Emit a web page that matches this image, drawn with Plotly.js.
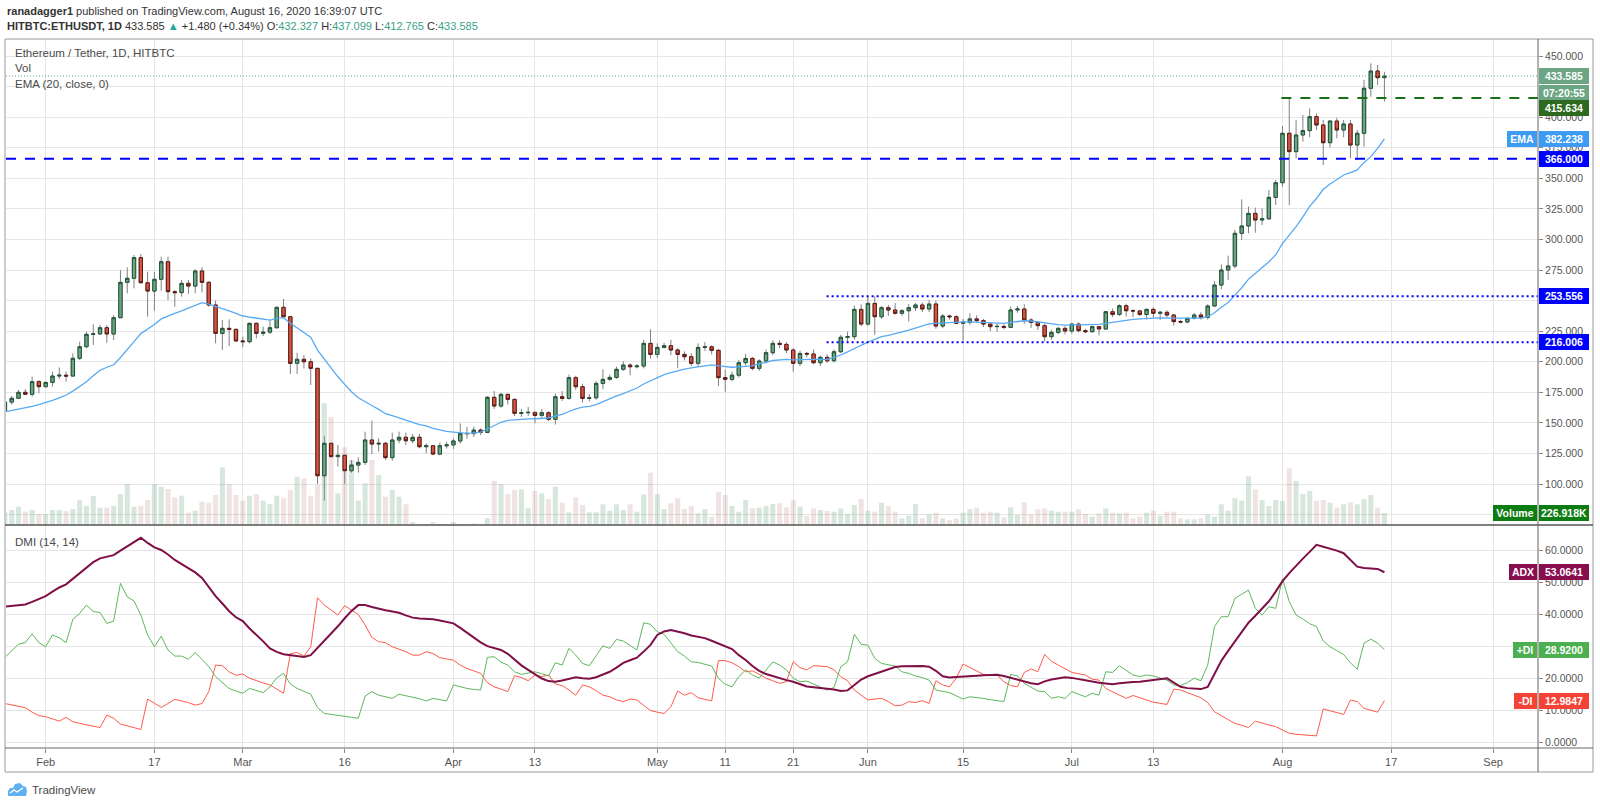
<!DOCTYPE html>
<html><head><meta charset="utf-8">
<script src="https://cdn.plot.ly/plotly-3.0.1.min.js"></script>
<style>html,body{margin:0;padding:0;background:#fff;}#chart{width:1600px;height:805px;}</style>
</head><body><div id="chart"></div>
<script>
// ---------------- DATA (HITBTC:ETHUSDT, 1D) ----------------
const firstDate = '2020-01-26';
const openP = [160.0,167.0,170.1,175.0,173.4,183.7,
179.6,183.1,188.3,189.0,188.3,202.8,212.3,222.4,222.8,227.8,
222.7,236.0,264.9,268.2,285.1,264.6,257.8,267.4,281.8,257.3,
256.5,264.1,261.9,274.2,264.9,246.4,223.2,227.3,226.5,217.0,
216.4,231.4,223.2,224.2,227.8,244.5,236.8,198.7,202.0,200.0,
194.6,106.8,133.3,122.4,123.5,110.9,115.5,117.7,136.0,132.7,
133.3,121.6,136.0,138.2,135.4,138.2,130.5,131.3,124.5,131.3,
132.0,135.2,141.4,141.2,144.1,142.2,170.9,163.8,173.3,169.2,
157.8,158.3,158.6,156.1,158.3,152.9,171.4,170.0,187.0,179.6,
170.0,170.5,182.3,185.6,187.2,193.8,197.3,195.9,196.5,215.0,
206.0,211.7,213.1,209.6,206.0,204.1,198.7,211.7,212.2,209.3,
187.0,185.6,189.0,199.2,202.7,194.6,200.6,207.4,215.0,214.2,
209.6,198.7,206.8,206.3,199.2,203.6,200.8,208.2,220.0,220.5,
242.8,230.8,247.7,236.8,244.2,242.3,239.6,241.7,244.2,246.4,
243.1,247.2,229.2,237.4,236.8,231.4,232.2,235.0,233.6,230.8,
228.7,228.9,228.1,242.3,243.1,234.1,232.2,229.5,220.5,224.0,
227.3,225.1,230.8,225.4,224.6,228.7,226.8,240.9,238.7,245.8,
241.7,241.5,238.7,242.8,239.6,240.4,238.2,232.8,232.5,235.5,
238.2,236.3,245.6,262.7,275.0,278.3,305.0,311.0,321.3,315.9,
316.9,334.4,346.4,386.8,371.8,385.4,389.0,400.4,393.6,379.1,
396.8,389.5,394.4,377.2,386.8,423.6,437.7,432.327];
const highP = [168.0,172.0,176.9,177.7,187.8,185.0,
183.7,191.9,195.4,191.9,206.9,216.4,224.6,230.6,230.0,230.0,
238.2,275.0,277.2,287.3,288.1,273.6,273.6,285.9,285.9,258.6,
266.8,266.8,275.5,277.2,266.0,250.0,234.1,234.7,227.0,220.5,
232.0,232.0,228.7,234.1,245.0,251.3,237.0,207.4,205.5,202.8,
195.0,139.3,133.8,131.9,124.0,119.6,121.8,142.8,151.8,137.4,
134.6,142.0,142.8,142.0,140.9,140.9,133.3,131.6,134.0,134.4,
137.4,149.6,146.6,147.0,145.5,172.0,176.0,174.5,174.0,170.0,
161.5,163.0,159.0,161.5,159.5,174.0,176.0,189.5,188.5,182.0,
173.5,184.0,193.8,189.5,196.0,200.5,198.5,198.0,218.0,226.5,
215.0,215.5,218.0,211.0,208.5,207.0,215.0,216.0,213.5,210.5,
193.5,192.0,201.5,206.5,204.0,202.0,210.0,217.5,217.5,216.0,
211.0,209.0,208.0,210.0,205.0,206.0,210.0,222.0,224.6,246.0,
247.0,253.0,253.5,245.5,246.5,248.0,243.0,247.0,248.0,248.5,
250.5,250.0,239.0,238.5,238.0,235.0,239.5,238.0,235.0,232.5,
231.0,230.5,245.0,245.5,247.0,235.5,233.0,231.0,226.0,228.5,
229.0,231.5,232.0,227.0,229.5,229.0,241.5,243.5,247.0,247.5,
243.0,242.5,243.5,244.5,241.5,242.0,239.0,234.5,236.0,240.0,
240.5,247.0,266.0,279.6,286.7,307.7,332.8,326.8,326.0,325.4,
340.4,348.6,392.8,415.6,397.7,401.8,407.2,403.0,397.7,397.7,
399.6,397.7,397.7,389.5,430.4,444.0,442.6,437.099];
const lowP = [158.5,165.0,169.5,172.8,171.4,174.2,
179.0,179.6,185.9,183.7,187.8,201.4,211.0,213.7,221.8,215.6,
217.8,236.0,255.9,260.0,264.0,236.8,241.7,258.1,250.5,245.0,
253.2,255.4,255.9,256.7,245.0,215.0,209.6,212.8,216.4,211.8,
215.0,219.1,221.0,222.7,227.3,236.0,190.0,190.0,194.6,181.0,
100.0,86.4,121.8,114.2,100.0,109.3,109.3,115.5,124.6,126.5,
119.6,119.1,133.3,131.9,133.3,129.2,125.1,123.5,123.5,129.0,
128.7,133.0,137.0,138.5,140.0,141.6,161.5,162.5,165.0,155.6,
155.0,155.8,149.6,154.5,151.5,148.6,168.0,169.0,177.0,166.5,
167.5,169.0,177.5,184.5,186.0,192.5,189.0,194.5,194.5,202.5,
203.0,211.0,205.5,194.6,201.0,196.5,196.0,209.0,206.0,180.0,
175.5,184.0,187.0,197.0,193.0,192.5,198.5,205.5,211.0,207.0,
191.8,196.5,203.5,198.0,196.5,199.0,199.5,207.0,216.4,218.0,
229.0,229.5,222.0,235.0,237.5,238.5,237.5,233.0,241.5,240.5,
240.5,227.0,227.5,234.5,231.0,217.2,230.0,231.5,228.5,225.0,
224.5,226.5,227.5,240.0,231.0,227.5,226.0,216.5,218.0,222.5,
222.5,223.0,224.0,223.5,223.5,221.5,226.0,236.5,237.5,237.0,
236.5,237.5,234.5,236.0,234.0,236.5,229.5,231.5,231.5,234.5,
234.5,234.5,245.0,259.2,266.8,276.4,299.6,305.0,305.5,311.8,
315.9,328.2,343.0,328.0,366.3,380.0,383.5,389.5,360.9,375.3,
382.7,383.5,366.3,365.0,375.9,416.7,426.3,412.765];
const closeP = [167.0,170.1,175.0,173.4,183.7,179.6,
183.1,188.3,189.0,188.3,202.8,212.3,222.4,222.8,227.8,222.7,
236.0,264.9,268.2,285.1,264.6,257.8,267.4,281.8,257.3,256.5,
264.1,261.9,274.2,264.9,246.4,223.2,227.3,226.5,217.0,216.4,
231.4,223.2,224.2,227.8,244.5,236.8,198.7,202.0,200.0,194.6,
106.8,133.3,122.4,123.5,110.9,115.5,117.7,136.0,132.7,133.3,
121.6,136.0,138.2,135.4,138.2,130.5,131.3,124.5,131.3,132.0,
135.2,141.4,141.2,144.1,142.2,170.9,163.8,173.3,169.2,157.8,
158.3,158.6,156.1,158.3,152.9,171.4,170.0,187.0,179.6,170.0,
170.5,182.3,185.6,187.2,193.8,197.3,195.9,196.5,215.0,206.0,
211.7,213.1,209.6,206.0,204.1,198.7,211.7,212.2,209.3,187.0,
185.6,189.0,199.2,202.7,194.6,200.6,207.4,215.0,214.2,209.6,
198.7,206.8,206.3,199.2,203.6,200.8,208.2,220.0,220.5,242.8,
230.8,247.7,236.8,244.2,242.3,239.6,241.7,244.2,246.4,243.1,
247.2,229.2,237.4,236.8,231.4,232.2,235.0,233.6,230.8,228.7,
228.9,228.1,242.3,243.1,234.1,232.2,229.5,220.5,224.0,227.3,
225.1,230.8,225.4,224.6,228.7,226.8,240.9,238.7,245.8,241.7,
241.5,238.7,242.8,239.6,240.4,238.2,232.8,232.5,235.5,238.2,
236.3,245.6,262.7,275.0,278.3,305.0,311.0,321.3,315.9,316.9,
334.4,346.4,386.8,371.8,385.4,389.0,400.4,393.6,379.1,396.8,
389.5,394.4,377.2,386.8,423.6,437.7,432.3,433.585];
const volumeK = [240,283,346,252,283,208,
208,283,283,265,302,472,359,548,328,328,
359,586,775,346,365,472,775,724,680,523,
554,233,271,441,422,567,1090,775,567,460,
554,586,460,397,554,504,662,914,882,554,
756,2300,2035,598,1468,1229,460,788,1229,945,
535,662,535,391,55,20,15,55,18,15,
55,20,15,25,20,130,832,775,586,662,
674,315,643,598,491,724,422,239,523,378,
239,239,391,271,391,283,391,252,580,989,
580,302,410,504,302,359,221,302,158,630,
567,359,252,472,315,328,359,397,410,334,
472,346,176,315,283,265,252,315,210,378,
491,271,252,422,359,252,126,176,397,126,
202,233,126,95,126,233,296,328,233,252,
233,145,334,189,428,202,296,315,271,252,
252,252,296,208,158,221,315,233,221,233,
126,158,233,271,176,252,252,126,107,107,
126,200,158,390,270,504,460,920,674,472,
359,472,454,1071,832,586,643,460,472,422,
328,391,428,391,491,567,328,226.918];
const ema20 = [159.0,160.0,161.2,162.0,163.5,165.0,
166.5,168.5,170.5,172.8,176.0,179.8,183.7,188.5,193.0,195.5,
197.5,203.5,209.6,216.5,223.0,226.5,230.5,235.0,237.5,239.6,
241.6,243.7,246.3,248.3,247.2,245.5,243.5,241.5,239.5,237.4,
236.5,235.5,234.8,234.1,235.5,236.0,231.4,227.5,224.2,220.0,
209.5,202.0,194.5,187.7,181.5,175.5,170.5,167.0,164.2,161.0,
157.5,156.0,154.2,152.5,150.5,148.5,147.5,145.5,144.2,143.0,
142.5,142.0,141.4,141.6,142.4,145.0,147.5,150.5,152.0,152.6,
153.0,153.2,153.4,153.6,154.0,155.7,157.0,159.3,161.5,162.8,
163.5,165.0,167.5,169.8,172.0,174.0,176.0,178.5,181.8,184.5,
187.0,189.5,191.0,192.8,194.0,195.0,195.8,197.0,197.5,196.6,
196.0,195.5,195.8,196.4,196.6,198.6,199.4,201.0,201.7,201.9,
201.5,201.8,202.0,201.9,202.1,201.8,203.5,205.5,208.0,211.0,
213.5,216.0,218.5,220.5,221.5,223.2,224.5,225.9,227.6,229.3,
231.0,231.4,231.8,232.2,232.4,232.6,232.6,232.4,232.1,231.8,
231.5,231.3,232.2,233.0,233.5,233.3,232.6,231.4,230.7,230.3,
230.0,230.0,230.0,229.9,230.2,230.5,231.4,232.3,233.3,234.1,
234.6,235.0,235.5,235.7,235.8,236.0,235.7,235.6,235.5,235.6,
235.6,236.8,240.0,244.5,248.5,254.5,260.5,267.5,272.0,276.5,
281.7,287.3,296.8,303.5,310.4,318.5,327.0,333.5,341.0,345.3,
349.0,352.7,354.7,356.8,363.0,367.7,374.5,382.238];
const adx = [42.3,42.5,42.8,43.0,43.8,44.6,
45.6,47.0,48.3,49.3,51.0,52.6,54.5,56.2,57.4,57.9,
58.4,59.8,61.2,62.6,63.8,62.2,60.8,60.0,58.6,56.9,
55.6,54.2,53.0,51.3,48.5,45.6,43.3,40.9,39.0,37.8,
35.5,33.6,31.5,29.3,28.2,27.5,27.2,26.8,26.6,27.2,
29.4,31.8,34.0,36.2,38.7,41.0,42.8,42.8,42.2,41.6,
41.2,40.8,40.4,39.6,38.9,38.6,38.5,38.4,38.0,37.5,
37.1,35.7,34.2,32.6,31.2,30.0,29.4,28.8,27.6,25.7,
24.0,22.6,21.2,19.9,19.1,18.9,19.3,19.9,20.3,20.0,
19.8,20.3,21.1,22.0,23.3,24.8,25.6,26.4,28.3,30.4,
33.5,34.6,35.0,34.6,34.0,33.3,32.8,32.5,31.7,30.9,
30.0,29.1,27.2,25.7,23.8,22.3,21.3,20.6,20.0,19.4,
18.9,18.2,17.4,17.2,17.0,16.9,16.5,16.0,16.2,17.9,
19.6,20.6,21.3,22.0,22.8,23.5,23.7,23.8,23.9,23.8,
23.6,22.3,20.6,20.2,20.4,20.6,20.7,20.8,20.9,21.0,
21.1,20.7,20.1,19.4,18.9,18.4,18.1,19.0,19.6,20.0,
20.3,20.1,19.8,19.4,19.0,18.6,18.3,18.1,18.4,18.7,
18.8,18.9,19.2,19.4,19.7,20.0,18.6,17.3,16.9,16.7,
16.6,17.3,21.5,25.4,28.5,31.5,34.5,37.3,39.5,41.6,
44.0,47.0,50.3,52.8,55.2,57.3,59.4,61.6,61.0,60.5,
59.8,59.0,56.9,54.8,54.4,54.3,54.1,53.0641];
const plusDI = [26.5,28.5,30.6,31.1,33.8,31.1,
29.8,33.5,32.6,31.1,38.4,40.2,42.8,40.8,40.5,37.1,
37.8,49.6,45.4,44.1,39.7,33.5,29.8,33.1,28.8,26.9,
26.9,25.9,28.0,25.9,23.6,20.5,18.6,16.8,16.0,15.3,
16.8,16.2,15.5,17.3,20.1,21.5,18.2,16.8,15.9,15.0,
10.8,9.0,8.7,8.5,8.1,7.8,7.5,14.4,15.8,14.7,
14.2,13.7,15.0,14.6,14.2,13.6,12.9,13.7,13.3,12.9,
17.9,17.3,16.8,16.5,16.3,26.5,26.7,25.0,24.1,22.0,
21.2,21.6,22.0,21.4,20.7,24.8,24.1,29.3,27.2,24.6,
23.9,27.0,30.1,29.3,32.1,31.6,30.2,28.8,37.3,36.8,
34.5,33.7,31.0,28.3,26.9,25.1,24.9,24.3,23.8,20.0,
18.1,17.3,20.5,22.6,21.0,20.0,22.6,25.1,24.1,22.6,
20.0,18.9,19.1,18.2,17.3,16.3,17.1,23.6,25.1,33.7,
30.6,30.3,26.2,24.6,24.2,23.8,22.0,21.5,20.7,20.2,
19.4,16.3,15.9,15.5,14.5,13.5,14.2,14.0,13.7,13.3,
13.0,12.7,21.2,20.7,18.4,17.1,16.0,15.8,13.7,14.2,
13.7,15.8,15.0,14.2,15.3,14.7,22.0,21.8,23.9,22.5,
21.0,20.5,21.0,20.7,20.0,19.4,17.9,17.7,18.6,20.0,
19.2,24.1,36.1,39.2,39.2,44.9,46.2,47.5,41.8,39.7,
42.3,41.8,51.0,43.9,39.7,38.5,37.0,36.1,31.6,29.8,
28.6,27.4,24.8,22.8,30.9,32.2,30.9,28.92];
const minusDI = [12.1,11.6,11.2,10.8,9.4,8.3,
8.0,7.3,6.6,7.8,6.4,5.9,5.4,5.0,4.6,8.5,
7.5,5.7,5.2,4.6,4.0,13.5,12.2,10.9,12.1,13.4,
12.9,12.4,11.6,12.1,15.8,24.1,23.9,22.0,20.9,21.3,
20.0,19.2,18.5,17.9,16.6,15.3,27.7,28.0,26.9,29.8,
45.1,42.8,41.3,39.7,42.6,41.3,39.9,36.6,32.7,31.4,
31.1,29.8,29.0,28.3,27.2,27.2,28.3,27.7,26.4,26.0,
25.6,24.1,23.0,22.3,21.5,18.6,17.3,16.6,15.8,20.8,
20.2,19.2,21.0,20.5,21.0,18.2,17.7,16.3,14.7,17.9,
17.3,16.1,14.7,14.2,13.2,12.7,13.5,13.2,11.6,9.9,
9.4,9.0,11.1,16.0,14.7,15.5,13.9,13.4,12.9,25.5,
25.5,24.8,23.6,22.0,22.3,21.2,20.0,19.2,18.4,18.9,
25.1,23.3,22.6,23.9,23.8,23.6,22.6,20.5,19.2,16.3,
14.7,13.2,13.5,13.7,12.7,11.4,11.6,12.7,12.4,13.0,
12.1,19.2,17.9,17.3,20.0,24.4,23.3,22.3,21.2,20.8,
21.0,18.9,17.7,17.3,21.8,22.9,22.0,27.4,25.3,24.1,
23.0,21.8,21.4,21.0,19.7,19.4,16.8,15.8,14.8,13.7,
14.6,14.0,13.2,12.5,12.2,11.8,16.6,16.3,15.5,14.7,
13.9,12.4,9.5,8.3,7.1,5.9,5.3,4.6,6.6,5.9,
5.4,4.9,3.8,2.8,2.5,2.3,2.1,2.0,10.4,9.8,
9.2,8.7,13.2,12.7,10.6,10.0,9.4,12.9847];
const tickDates = ['2020-02-01','2020-02-17','2020-03-01','2020-03-16','2020-04-01','2020-04-13','2020-05-01','2020-05-11','2020-05-21','2020-06-01','2020-06-15','2020-07-01','2020-07-13','2020-08-01','2020-08-17','2020-09-01'];
const tickText = ['Feb','17','Mar','16','Apr','13','May','11','21','Jun','15','Jul','13','Aug','17','Sep'];
const priceTicks = [75,100,125,150,175,200,225,250,275,300,325,350,375,400,425,450];
const priceTicksHidden = [75,250,425];   // covered by value boxes in the reference
const dmiTicks = [0,10,20,30,40,50,60];
const dmiTicksHidden = [30];
const levelPrices = [366.000, 415.634, 253.556, 216.006];
const levelStart = [null, '2020-07-31 20:00', '2020-05-25 22:00', '2020-05-25 22:00'];
const prevChange = 1.480, prevChangePct = 0.34, countdown = '07:20:55';

// ---------------- BUILD ----------------
const n = closeP.length;
const t0 = Date.parse(firstDate + 'T00:00:00Z');
const dates = [];
for (let i = 0; i < n; i++) dates.push(new Date(t0 + i * 86400000).toISOString().slice(0, 10));

const xRange = ['2020-01-26 03:50', '2020-09-07 14:24'];
const L = 6, R = 1538, T = 39, B = 748;
const px = v => (v - L) / (R - L);
const py = v => (B - v) / (B - T);
const split = py(525);

const FONT = 'Liberation Sans, Arial, sans-serif';
const upFill = '#6ba583', upLine = '#225437', dnFill = '#d75442', dnLine = '#5b1a13', wickCol = '#808080';
const isUp = closeP.map((c, i) => c >= openP[i]);
const volColors = isUp.map(u => u ? 'rgba(107,165,131,0.27)' : 'rgba(150,70,70,0.15)');
const bodyTop = openP.map((o, i) => Math.max(o, closeP[i]));
const bodyBot = openP.map((o, i) => Math.min(o, closeP[i]));

const traces = [
  {type:'bar', x:dates, y:volumeK, xaxis:'x', yaxis:'y', marker:{color:volColors, line:{width:0}}, hoverinfo:'skip', showlegend:false},
  {type:'candlestick', x:dates, open:openP, high:highP, low:lowP, close:closeP, xaxis:'x', yaxis:'y3',
   increasing:{line:{color:wickCol, width:1}, fillcolor:upFill}, decreasing:{line:{color:wickCol, width:1}, fillcolor:dnFill},
   whiskerwidth:0, hoverinfo:'skip', showlegend:false},
  {type:'candlestick', x:dates, open:openP, high:bodyTop, low:bodyBot, close:closeP, xaxis:'x', yaxis:'y3',
   increasing:{line:{color:upLine, width:1}, fillcolor:upFill}, decreasing:{line:{color:dnLine, width:1}, fillcolor:dnFill},
   whiskerwidth:0, hoverinfo:'skip', showlegend:false},
  {type:'scatter', mode:'lines', x:dates, y:ema20, xaxis:'x', yaxis:'y3', line:{color:'#58aaf3', width:1.3}, hoverinfo:'skip', showlegend:false},
  {type:'scatter', mode:'lines', x:dates, y:minusDI, xaxis:'x', yaxis:'y2', line:{color:'#ff5a4a', width:1}, hoverinfo:'skip', showlegend:false},
  {type:'scatter', mode:'lines', x:dates, y:plusDI, xaxis:'x', yaxis:'y2', line:{color:'#5cb85c', width:1}, hoverinfo:'skip', showlegend:false},
  {type:'scatter', mode:'lines', x:dates, y:adx, xaxis:'x', yaxis:'y2', line:{color:'#7f0f47', width:2}, hoverinfo:'skip', showlegend:false}
];

const grid = '#e6e6e6';
const shapes = [];
shapes.push({type:'line', xref:'paper', x0:0, x1:1, yref:'y3', y0:levelPrices[0], y1:levelPrices[0], line:{color:'#0000ff', width:2, dash:'10px,9px'}});
shapes.push({type:'line', xref:'x', x0:levelStart[1], x1:xRange[1], yref:'y3', y0:levelPrices[1], y1:levelPrices[1], line:{color:'#167016', width:2, dash:'10px,9px'}});
shapes.push({type:'line', xref:'x', x0:levelStart[2], x1:xRange[1], yref:'y3', y0:levelPrices[2], y1:levelPrices[2], line:{color:'#0000ff', width:2, dash:'2px,3px'}});
shapes.push({type:'line', xref:'x', x0:levelStart[3], x1:xRange[1], yref:'y3', y0:levelPrices[3], y1:levelPrices[3], line:{color:'#0000ff', width:2, dash:'2px,3px'}});
shapes.push({type:'line', xref:'paper', x0:0, x1:1, yref:'y3', y0:closeP[n-1], y1:closeP[n-1], line:{color:'#6ba583', width:1, dash:'1px,2px'}});
const frameR = (1593 - L) / (R - L), frameB = py(772);
shapes.push({type:'rect', xref:'paper', yref:'paper', x0:px(5), x1:frameR, y0:frameB, y1:1, line:{color:'#9a9a9a', width:1}, fillcolor:'rgba(0,0,0,0)'});
shapes.push({type:'line', xref:'paper', yref:'paper', x0:1, x1:1, y0:frameB, y1:1, line:{color:'#666', width:1}});
shapes.push({type:'line', xref:'paper', yref:'paper', x0:px(5), x1:frameR, y0:split, y1:split, line:{color:'#555', width:1.5}});
shapes.push({type:'line', xref:'paper', yref:'paper', x0:px(5), x1:frameR, y0:0, y1:0, line:{color:'#666', width:1}});
function pathFrom(pts, close) {
  return pts.map((p, i) => (i ? 'L' : 'M') + px(p[0]).toFixed(5) + ',' + py(p[1]).toFixed(5)).join(' ') + (close ? ' Z' : '');
}
shapes.push({type:'path', xref:'paper', yref:'paper', path:pathFrom([[8,796],[8,791],[10,788],[13,788],[15,784],[20,783],[23,786],[26,787],[27,791],[26,796]], true), fillcolor:'#5fb0ef', line:{width:0}});
shapes.push({type:'path', xref:'paper', yref:'paper', path:pathFrom([[10,793],[14,790],[17,792],[23,788]], false), line:{color:'#fff', width:1.3}});

function box(yref, y, text, bg, opts) {
  opts = opts || {};
  return Object.assign({xref:'paper', x:1, xanchor:'left', xshift:1, yref:yref, y:y, yanchor:'middle', yshift:0,
    text:'<b>' + text + '</b>', font:{family:FONT, size:10.5, color:'#fff'}, bgcolor:bg, bordercolor:bg,
    borderwidth:1, borderpad:1, width:46, height:12, align:'center', showarrow:false}, opts);
}
function tag(yref, y, text, bg, w) {
  return box(yref, y, text, bg, {xanchor:'right', xshift:-1, width:w});
}
const last = n - 1;
const teal = '#3a9f8a';
const annotations = [
  {xref:'paper', yref:'paper', x:px(5), y:py(11), xanchor:'left', yanchor:'middle', showarrow:false,
   text:'<b>ranadagger1</b> published on TradingView.com, August 16, 2020 16:39:07 UTC', font:{family:FONT, size:11, color:'#333'}},
  {xref:'paper', yref:'paper', x:px(5), y:py(26), xanchor:'left', yanchor:'middle', showarrow:false,
   text:'<b>HITBTC:ETHUSDT, 1D</b> ' + closeP[last].toFixed(3) + ' <span style="color:#26a69a">▲</span> +' + prevChange.toFixed(3) + ' (+' + prevChangePct.toFixed(2) + '%) O:<span style="color:' + teal + '">' + openP[last].toFixed(3) +
   '</span> H:<span style="color:' + teal + '">' + highP[last].toFixed(3) + '</span> L:<span style="color:' + teal + '">' + lowP[last].toFixed(3) + '</span> C:<span style="color:' + teal + '">' + closeP[last].toFixed(3) + '</span>',
   font:{family:FONT, size:11, color:'#333'}},
  {xref:'paper', yref:'paper', x:px(13), y:py(53), xanchor:'left', yanchor:'middle', showarrow:false, text:'Ethereum / Tether, 1D, HITBTC', font:{family:FONT, size:11.5, color:'#4a4a4a'}},
  {xref:'paper', yref:'paper', x:px(13), y:py(68), xanchor:'left', yanchor:'middle', showarrow:false, text:'Vol', font:{family:FONT, size:11.5, color:'#4a4a4a'}},
  {xref:'paper', yref:'paper', x:px(13), y:py(84), xanchor:'left', yanchor:'middle', showarrow:false, text:'EMA (20, close, 0)', font:{family:FONT, size:11.5, color:'#4a4a4a'}},
  {xref:'paper', yref:'paper', x:px(13), y:py(542), xanchor:'left', yanchor:'middle', showarrow:false, text:'DMI (14, 14)', font:{family:FONT, size:11.5, color:'#4a4a4a'}},
  {xref:'paper', yref:'paper', x:px(30), y:py(790), xanchor:'left', yanchor:'middle', showarrow:false, text:'TradingView', font:{family:FONT, size:11.5, color:'#4a4a4a'}},
  box('y3', closeP[last], closeP[last].toFixed(3), '#6ba583'),
  box('y3', closeP[last], countdown, '#6ba583', {yshift:-17}),
  box('y3', levelPrices[1], levelPrices[1].toFixed(3), '#2d6a1f', {yshift:-10}),
  box('y3', ema20[last], ema20[last].toFixed(3), '#3d9bf3'),
  tag('y3', ema20[last], 'EMA', '#3d9bf3', 26),
  box('y3', levelPrices[0], levelPrices[0].toFixed(3), '#0000ff'),
  box('y3', levelPrices[2], levelPrices[2].toFixed(3), '#0000ff'),
  box('y3', levelPrices[3], levelPrices[3].toFixed(3), '#0000ff'),
  box('y', volumeK[last], volumeK[last].toFixed(3) + 'K', '#0d7d13'),
  tag('y', volumeK[last], 'Volume', '#0d7d13', 40),
  box('y2', adx[last], adx[last].toFixed(4), '#880e4f'),
  tag('y2', adx[last], 'ADX', '#880e4f', 24),
  box('y2', plusDI[last], plusDI[last].toFixed(4), '#4caf50'),
  tag('y2', plusDI[last], '+DI', '#4caf50', 20),
  box('y2', minusDI[last], minusDI[last].toFixed(4), '#f44336'),
  tag('y2', minusDI[last], '-DI', '#f44336', 19)
];

const priceTickText = priceTicks.map(v => priceTicksHidden.includes(v) ? '' : v.toFixed(3));
const dmiTickText = dmiTicks.map(v => dmiTicksHidden.includes(v) ? '' : v.toFixed(4));

const layout = {
  width:1600, height:805,
  margin:{l:L, r:1600 - R, t:T, b:805 - B, pad:0},
  paper_bgcolor:'#fff', plot_bgcolor:'#fff',
  font:{family:FONT, color:'#555'},
  showlegend:false, bargap:0.25, dragmode:false,
  xaxis:{type:'date', range:xRange, anchor:'y2', tickvals:tickDates, ticktext:tickText,
    showgrid:true, gridcolor:grid, gridwidth:1, zeroline:false, showline:false,
    ticks:'outside', ticklen:4, tickcolor:'#888', tickfont:{family:FONT, size:11, color:'#555'},
    rangeslider:{visible:false}, fixedrange:true},
  yaxis:{domain:[split, 1], range:[0, 9185], visible:false, showgrid:false, zeroline:false, fixedrange:true},
  yaxis3:{domain:[split, 1], overlaying:'y', anchor:'x', side:'right', range:[66.5, 463.9], tickvals:priceTicks, ticktext:priceTickText,
    showgrid:true, gridcolor:grid, zeroline:false, showline:false, ticks:'outside', ticklen:4, tickcolor:'#888',
    tickfont:{family:FONT, size:10.5, color:'#555'}, fixedrange:true},
  yaxis2:{domain:[0, split], anchor:'x', side:'right', range:[-1.78, 67.8], tickvals:dmiTicks, ticktext:dmiTickText,
    showgrid:true, gridcolor:grid, zeroline:false, showline:false, ticks:'outside', ticklen:4, tickcolor:'#888',
    tickfont:{family:FONT, size:10.5, color:'#555'}, fixedrange:true},
  shapes:shapes, annotations:annotations
};

Plotly.newPlot('chart', traces, layout, {staticPlot:true, displayModeBar:false});
</script>
</body></html>
